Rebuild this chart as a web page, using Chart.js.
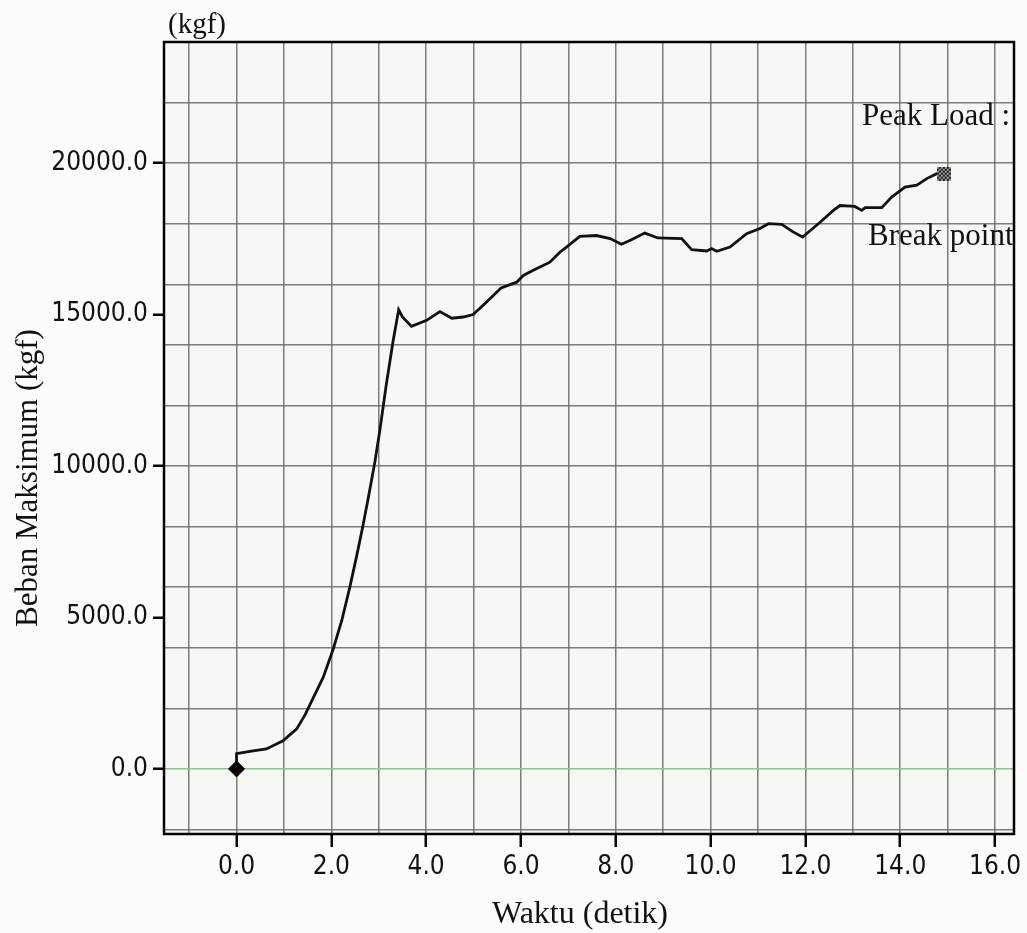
<!DOCTYPE html>
<html>
<head>
<meta charset="utf-8">
<script src="https://cdn.jsdelivr.net/npm/chart.js@4.4.1/dist/chart.umd.min.js"></script>
<style>
html,body{margin:0;padding:0;background:#fcfcfb;}
canvas{display:block;}
</style>
</head>
<body>
<canvas id="c" width="1027" height="933" style="width:1027px;height:933px"></canvas>
<script>
// ---- data ----
const timeSec = [0, 0, 0.28, 0.63, 0.98, 1.27, 1.45, 1.62, 1.83, 2.04, 2.22, 2.39, 2.53, 2.66, 2.78, 2.92, 3.02, 3.16, 3.30, 3.42, 3.50, 3.69, 4.01, 4.29, 4.54, 4.78, 4.99, 5.27, 5.58, 5.91, 6.05, 6.26, 6.61, 6.82, 6.96, 7.24, 7.59, 7.88, 8.12, 8.33, 8.61, 8.89, 9.39, 9.60, 9.92, 10.02, 10.13, 10.41, 10.76, 11.04, 11.22, 11.50, 11.74, 11.94, 12.06, 12.31, 12.59, 12.73, 13.04, 13.19, 13.26, 13.61, 13.82, 14.10, 14.35, 14.56, 14.77, 14.88];
const loadKgf = [0, 500, 580, 660, 930, 1320, 1800, 2350, 3030, 3960, 4900, 6000, 7000, 7980, 8950, 10150, 11150, 12700, 14100, 15160, 14920, 14610, 14810, 15100, 14880, 14920, 15000, 15410, 15880, 16070, 16290, 16460, 16730, 17060, 17230, 17580, 17610, 17510, 17320, 17470, 17690, 17530, 17510, 17140, 17100, 17180, 17090, 17230, 17670, 17840, 18000, 17980, 17730, 17560, 17720, 18050, 18440, 18600, 18570, 18440, 18530, 18530, 18880, 19210, 19270, 19490, 19650, 19650];
const startPoint = {x: 0, y: 0};
const breakPoint = {x: 14.92, y: 19650};
const xTickLabels = [0, 2, 4, 6, 8, 10, 12, 14, 16];
const xGridValues = [-1, 0, 1, 2, 3, 4, 5, 6, 7, 8, 9, 10, 11, 12, 13, 14, 15, 16];
const yTickLabels = [0, 5000, 10000, 15000, 20000];
const yGridValues = [-2000, 0, 2000, 4000, 6000, 8000, 10000, 12000, 14000, 16000, 18000, 20000, 22000];
const xTitle = 'Waktu (detik)';
const yTitle = 'Beban Maksimum (kgf)';
const yUnit = '(kgf)';
const peakLabel = 'Peak Load :';
const breakLabel = 'Break point';

const tickFont = "'DejaVu Sans Condensed','Liberation Sans Narrow','DejaVu Sans',sans-serif";
const serif = "'Liberation Serif','DejaVu Serif',serif";
const gridCol = 'rgba(105,105,95,0.85)';

// checkered marker
const chk = document.createElement('canvas');
chk.width = 14; chk.height = 14;
(function(){
  const g = chk.getContext('2d');
  for (let i = 0; i < 7; i++) for (let j = 0; j < 7; j++) {
    g.fillStyle = ((i + j) % 2) ? '#222' : '#999';
    g.fillRect(i*2, j*2, 2, 2);
  }
})();

const curve = timeSec.map((t, i) => ({x: t, y: loadKgf[i]}));
const xTickSet = [...new Set([...xGridValues, ...xTickLabels])].sort((a,b)=>a-b);
const yTickSet = [...new Set([...yGridValues, ...yTickLabels])].sort((a,b)=>a-b);

const decor = {
  id: 'decor',
  beforeDraw(chart) {
    const {ctx, chartArea: a} = chart;
    ctx.save();
    ctx.fillStyle = '#f7f7f5';
    ctx.fillRect(a.left, a.top, a.right - a.left, a.bottom - a.top);
    ctx.restore();
  },
  afterDatasetsDraw(chart) {
    const {ctx, chartArea: a} = chart;
    ctx.save();
    ctx.beginPath();
    ctx.rect(a.left, a.top, a.right - a.left, a.bottom - a.top);
    ctx.clip();
    ctx.fillStyle = '#111';
    ctx.font = "31px " + serif;
    ctx.textBaseline = 'alphabetic';
    ctx.textAlign = 'left';
    ctx.fillText(peakLabel, 862, 125);
    ctx.fillText(breakLabel, 868, 245);
    ctx.restore();

    ctx.save();
    ctx.strokeStyle = '#000';
    ctx.lineWidth = 2.5;
    ctx.strokeRect(a.left, a.top, a.right - a.left, a.bottom - a.top);
    ctx.fillStyle = '#111';
    ctx.font = "29px " + serif;
    ctx.textAlign = 'left';
    ctx.textBaseline = 'alphabetic';
    ctx.fillText(yUnit, 168, 33);
    ctx.font = "32px " + serif;
    ctx.textAlign = 'center';
    ctx.fillText(xTitle, 580, 923);
    ctx.translate(37, 478);
    ctx.rotate(-Math.PI/2);
    ctx.font = "31px " + serif;
    ctx.fillText(yTitle, 0, 0);
    ctx.restore();
  }
};

new Chart(document.getElementById('c'), {
  type: 'scatter',
  data: {
    datasets: [
      {data: curve, showLine: true, borderColor: '#111', borderWidth: 2.8, pointRadius: 0, tension: 0, order: 2},
      {data: [startPoint], pointStyle: 'rectRot', pointRadius: 8, backgroundColor: '#000', borderColor: '#000', order: 1},
      {data: [breakPoint], pointStyle: chk, pointRadius: 7, order: 1}
    ]
  },
  options: {
    responsive: false,
    animation: false,
    events: [],
    layout: {padding: {top: 42, right: 13, left: 0, bottom: 0}},
    plugins: {legend: {display: false}, tooltip: {enabled: false}},
    scales: {
      x: {
        type: 'linear', min: -1.53, max: 16.4,
        afterBuildTicks: s => { s.ticks = xTickSet.map(v => ({value: v})); },
        afterFit: s => { s.height = 99; },
        border: {display: false},
        grid: {
          color: c => xGridValues.includes(c.tick.value) ? gridCol : 'rgba(0,0,0,0)',
          lineWidth: 1.5,
          drawTicks: true, tickLength: 13,
          tickColor: c => xTickLabels.includes(c.tick.value) ? '#000' : 'rgba(0,0,0,0)',
          tickWidth: 2.5
        },
        ticks: {
          autoSkip: false, maxRotation: 0, padding: 5, color: '#111',
          font: {family: tickFont, size: 26},
          callback: v => xTickLabels.includes(v) ? v.toFixed(1) : ''
        }
      },
      y: {
        type: 'linear', min: -2150, max: 24000,
        afterBuildTicks: s => { s.ticks = yTickSet.map(v => ({value: v})); },
        afterFit: s => { s.width = 164; },
        border: {display: false},
        grid: {
          color: c => c.tick.value === 0 ? '#8cc48c' : (yGridValues.includes(c.tick.value) ? gridCol : 'rgba(0,0,0,0)'),
          lineWidth: 1.5,
          drawTicks: true, tickLength: 11,
          tickColor: c => yTickLabels.includes(c.tick.value) ? '#000' : 'rgba(0,0,0,0)',
          tickWidth: 2.5
        },
        ticks: {
          autoSkip: false, padding: 5, color: '#111',
          font: {family: tickFont, size: 26},
          callback: v => yTickLabels.includes(v) ? v.toFixed(1) : ''
        }
      }
    }
  },
  plugins: [decor]
});
</script>
</body>
</html>
